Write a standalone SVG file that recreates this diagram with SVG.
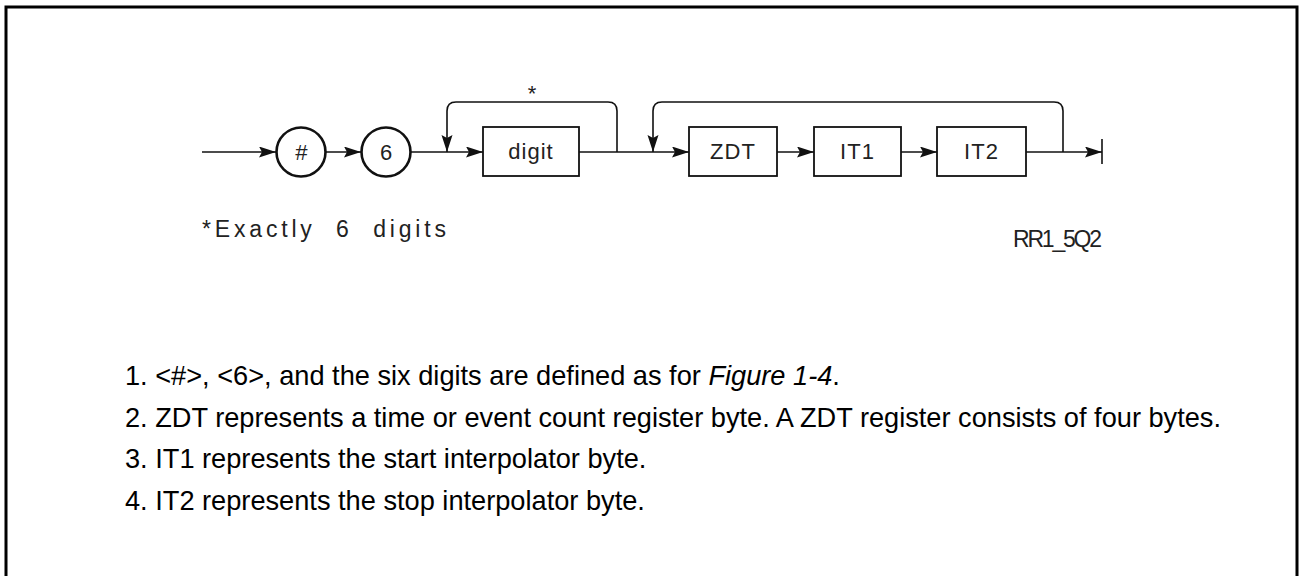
<svg xmlns="http://www.w3.org/2000/svg" width="1306" height="576" viewBox="0 0 1306 576">
  <style>
    .frame { fill: none; stroke: #000; stroke-width: 3; }
    .conn { fill: none; stroke: #111; stroke-width: 1.6; }
    .node { fill: #fff; stroke: #111; stroke-width: 1.8; }
    .circ { fill: #fff; stroke: #111; stroke-width: 2.6; }
    .lbl { font-family: "Liberation Sans", Arial, sans-serif; font-size: 22px; fill: #222; text-anchor: middle; dominant-baseline: central; }
    .note { font-family: "Liberation Sans", Arial, sans-serif; font-size: 23px; fill: #222; }
    .body { font-family: "Liberation Sans", Arial, sans-serif; font-size: 27.2px; fill: #000; }
  </style>
  <defs>
    <marker id="arr" markerUnits="userSpaceOnUse" markerWidth="20" markerHeight="12" refX="17" refY="5.5" orient="auto">
      <path d="M0,0 L17,5.5 L0,11 L3,5.5 z" fill="#111"/>
    </marker>
  </defs>
  <rect width="1306" height="576" fill="#fff"/>
  <path class="frame" d="M6,580 V7 H1297 V580"/>

  <g id="connectors">
    <path class="conn" d="M202,152 H276" marker-end="url(#arr)"/>
    <path class="conn" d="M326,152 H361" marker-end="url(#arr)"/>
    <path class="conn" d="M411,152 H483" marker-end="url(#arr)"/>
    <path class="conn" d="M617,152 V111 Q617,102 608,102 H456 Q447,102 447,111 V152" marker-end="url(#arr)"/>
    <path class="conn" d="M579,152 H689" marker-end="url(#arr)"/>
    <path class="conn" d="M1063,152 V111 Q1063,102 1054,102 H662 Q653,102 653,111 V152" marker-end="url(#arr)"/>
    <path class="conn" d="M777,152 H814" marker-end="url(#arr)"/>
    <path class="conn" d="M901,152 H937" marker-end="url(#arr)"/>
    <path class="conn" d="M1026,152 H1102" marker-end="url(#arr)"/>
    <path class="conn" d="M1102,139 V164"/>
  </g>

  <g id="n-hash">
    <circle class="circ" cx="301" cy="152" r="24.5"/>
    <text class="lbl" x="301" y="152" font-size="24" font-style="italic">#</text>
  </g>
  <g id="n-six">
    <circle class="circ" cx="386" cy="152" r="24.5"/>
    <text class="lbl" x="386" y="152" font-size="25">6</text>
  </g>
  <g id="n-digit">
    <rect class="node" x="483" y="127" width="96" height="49"/>
    <text class="lbl" x="531" y="151" letter-spacing="1">digit</text>
  </g>
  <g id="n-star">
    <text class="lbl" x="532" y="93" font-size="18">*</text>
  </g>
  <g id="n-zdt">
    <rect class="node" x="689" y="127" width="88" height="49"/>
    <text class="lbl" x="733" y="151" letter-spacing="1">ZDT</text>
  </g>
  <g id="n-it1">
    <rect class="node" x="814" y="127" width="87" height="49"/>
    <text class="lbl" x="857.5" y="151" letter-spacing="1">IT1</text>
  </g>
  <g id="n-it2">
    <rect class="node" x="937" y="127" width="89" height="49"/>
    <text class="lbl" x="981.5" y="151" letter-spacing="1">IT2</text>
  </g>

  <g id="notes">
    <text class="note" x="202" y="237" xml:space="preserve" textLength="244" lengthAdjust="spacing">*Exactly  6  digits</text>
    <text class="note" x="1013" y="247" font-size="15" textLength="89" lengthAdjust="spacing">RR1_5Q2</text>
  </g>

  <g id="body-text">
    <text class="body" x="125" y="385">1. &lt;#&gt;, &lt;6&gt;, and the six digits are defined as for <tspan font-style="italic">Figure 1-4</tspan>.</text>
    <text class="body" x="125" y="427">2. ZDT represents a time or event count register byte. A ZDT register consists of four bytes.</text>
    <text class="body" x="125" y="468">3. IT1 represents the start interpolator byte.</text>
    <text class="body" x="125" y="510">4. IT2 represents the stop interpolator byte.</text>
  </g>
</svg>
